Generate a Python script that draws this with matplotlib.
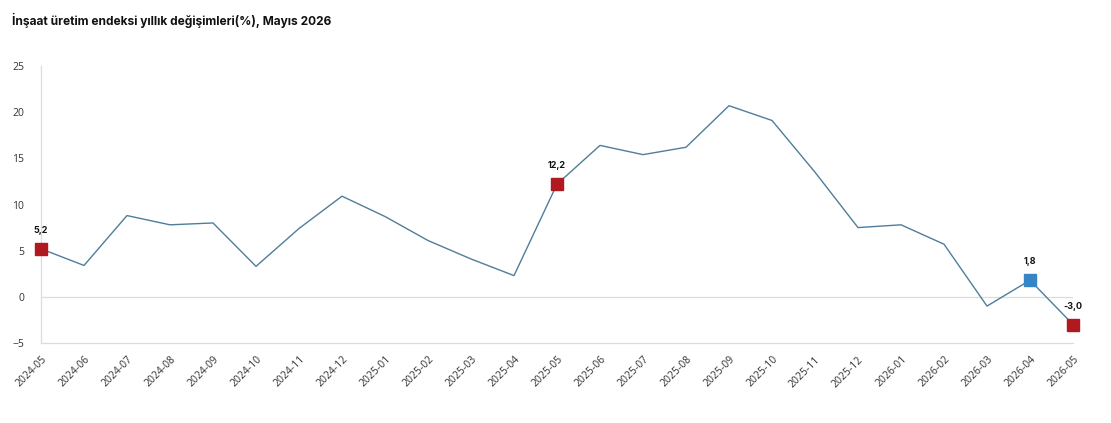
import matplotlib.pyplot as plt

months = ["2024-05", "2024-06", "2024-07", "2024-08", "2024-09", "2024-10", "2024-11",
          "2024-12", "2025-01", "2025-02", "2025-03", "2025-04", "2025-05", "2025-06",
          "2025-07", "2025-08", "2025-09", "2025-10", "2025-11", "2025-12", "2026-01",
          "2026-02", "2026-03", "2026-04", "2026-05"]
values = [5.2, 3.4, 8.8, 7.8, 8.0, 3.3, 7.4, 10.9, 8.7, 6.1, 4.1, 2.3, 12.2, 16.4,
          15.4, 16.2, 20.7, 19.1, 13.5, 7.5, 7.8, 5.7, -1.0, 1.8, -3.0]
red_idx = [0, 12, 24]
blue_idx = [23]

fig = plt.figure(figsize=(11.11, 4.23), dpi=100)
ax = fig.add_axes([41 / 1111, 1 - 343 / 423, 1032 / 1111, 277 / 423])

x = list(range(len(months)))
ax.plot(x, values, color="#4f7d9a", lw=1.0, zorder=3)
ax.axhline(0, color="#dcdcdc", lw=0.9, zorder=1)

for i in red_idx + blue_idx:
    c = "#b0191f" if i in red_idx else "#3784c6"
    ax.plot(i, values[i], marker="s", ms=8.5, color=c, mec=c, zorder=4,
            linestyle="none", clip_on=False)
    ax.annotate(f"{values[i]:.1f}".replace(".", ","), (i, values[i]), xytext=(0, 10),
                textcoords="offset points", ha="center", va="bottom",
                fontsize=6.5, fontweight="bold", family="Inter", color="#111111")

ax.set_xlim(0, 24)
ax.set_ylim(-5, 25)
ax.set_yticks([-5, 0, 5, 10, 15, 20, 25])
ax.set_xticks(x)
ax.set_xticklabels(months, rotation=45, ha="right", rotation_mode="anchor")
ax.tick_params(length=0, labelsize=7.5, colors="#333333", pad=8)
for lab in ax.get_xticklabels() + ax.get_yticklabels():
    lab.set_family("Open Sans")
ax.tick_params(axis="y", pad=12)

for s in ["top", "right"]:
    ax.spines[s].set_visible(False)
for s in ["left", "bottom"]:
    ax.spines[s].set_color("#dcdcdc")
    ax.spines[s].set_linewidth(0.9)

fig.text(12 / 1111, 1 - 20 / 423, "İnşaat üretim endeksi yıllık değişimleri(%), Mayıs 2026",
         fontsize=8.6, fontweight="bold", family="Inter", va="center", ha="left", color="#111111")

fig.savefig("out.png", dpi=100)
